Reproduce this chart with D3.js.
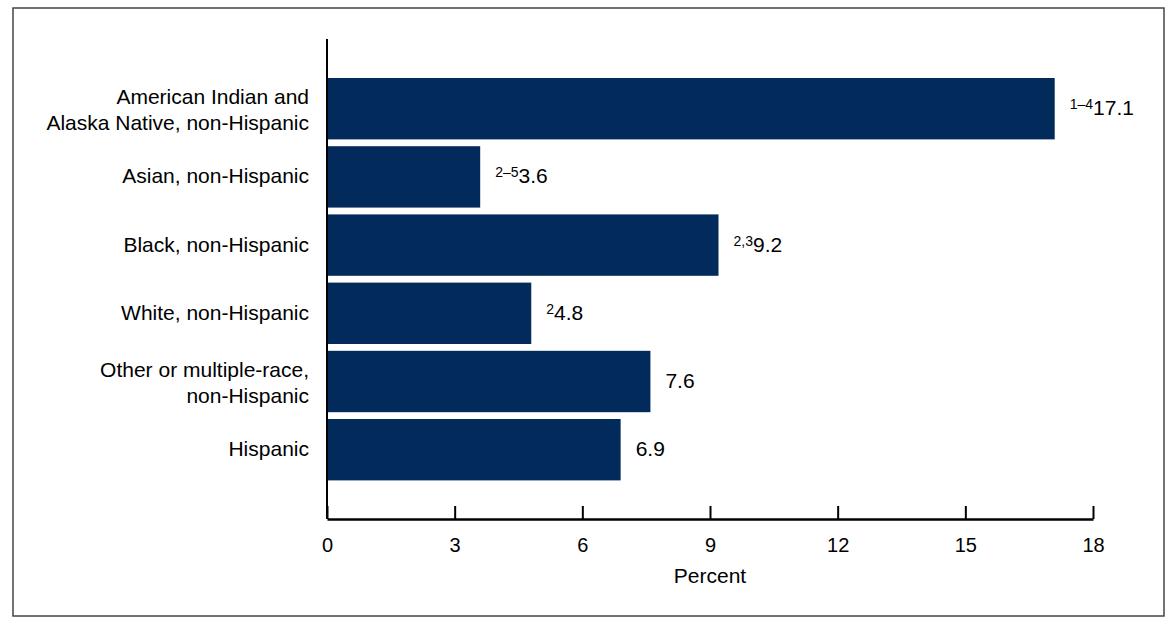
<!DOCTYPE html>
<html>
<head>
<meta charset="utf-8">
<script src="https://cdn.jsdelivr.net/npm/d3@7"></script>
<style>
  body { margin: 0; background: #fff; }
  text { font-family: "Liberation Sans", Arial, sans-serif; fill: #000; }
</style>
</head>
<body>
<script>
const categories = [
  ['American Indian and', 'Alaska Native, non-Hispanic'],
  ['Asian, non-Hispanic'],
  ['Black, non-Hispanic'],
  ['White, non-Hispanic'],
  ['Other or multiple-race,', 'non-Hispanic'],
  ['Hispanic']
];
const values = [17.1, 3.6, 9.2, 4.8, 7.6, 6.9];
const notes = ['1\u20134', '2\u20135', '2,3', '2', '', ''];
const ticks = [0, 3, 6, 9, 12, 15, 18];

const W = 1176, H = 630;
const x0 = 327, x1 = 1093, yTop = 39, yAxis = 519;

const svg = d3.select('body').append('svg')
  .attr('width', W).attr('height', H);

// outer frame
svg.append('rect')
  .attr('x', 13).attr('y', 8)
  .attr('width', 1151).attr('height', 608)
  .attr('fill', 'none').attr('stroke', '#444').attr('stroke-width', 1.5);

const x = d3.scaleLinear().domain([0, 18]).range([x0, x1]);
const y = d3.scaleBand()
  .domain(d3.range(values.length))
  .range([74.6, 483.8])
  .paddingInner(0.1).paddingOuter(0.05);

// bars
svg.append('g').selectAll('rect')
  .data(values)
  .join('rect')
  .attr('x', x(0))
  .attr('y', (d, i) => y(i))
  .attr('width', d => x(d) - x(0))
  .attr('height', y.bandwidth())
  .attr('fill', '#022b5b');

// value labels with footnote superscripts
const vl = svg.append('g').selectAll('text')
  .data(values)
  .join('text')
  .attr('x', d => x(d) + 15)
  .attr('y', (d, i) => y(i) + y.bandwidth() / 2 + 6.5)
  .attr('font-size', 21);
vl.append('tspan')
  .attr('font-size', 14)
  .attr('dy', -6)
  .text((d, i) => notes[i]);
vl.append('tspan')
  .attr('dy', (d, i) => notes[i] ? 6 : 0)
  .text(d => d.toFixed(1));

// category labels
const cl = svg.append('g').selectAll('text')
  .data(categories)
  .join('text')
  .attr('text-anchor', 'end')
  .attr('font-size', 21)
  .attr('y', (d, i) => y(i) + y.bandwidth() / 2 + 6.5 - (d.length - 1) * 11);
cl.selectAll('tspan')
  .data(d => d)
  .join('tspan')
  .attr('x', 309)
  .attr('dy', (d, j) => j ? 26 : 0)
  .text(d => d);

// y axis line
svg.append('line')
  .attr('x1', x0).attr('x2', x0)
  .attr('y1', yTop).attr('y2', yAxis)
  .attr('stroke', '#000').attr('stroke-width', 2);

// x axis
const xAxis = svg.append('g')
  .attr('transform', `translate(0,${yAxis})`)
  .call(d3.axisBottom(x).tickValues(ticks).tickSize(-13).tickSizeOuter(0));
xAxis.select('.domain').attr('stroke', '#000').attr('stroke-width', 2.5);
xAxis.selectAll('.tick line').attr('stroke', '#000').attr('stroke-width', 2);
xAxis.selectAll('.tick text')
  .attr('font-size', 20)
  .attr('font-family', '"Liberation Sans", Arial, sans-serif')
  .attr('fill', '#000')
  .attr('dy', null)
  .attr('y', 33);

svg.append('text')
  .attr('x', (x(0) + x(18)) / 2)
  .attr('y', 583)
  .attr('text-anchor', 'middle')
  .attr('font-size', 21)
  .text('Percent');
</script>
</body>
</html>
